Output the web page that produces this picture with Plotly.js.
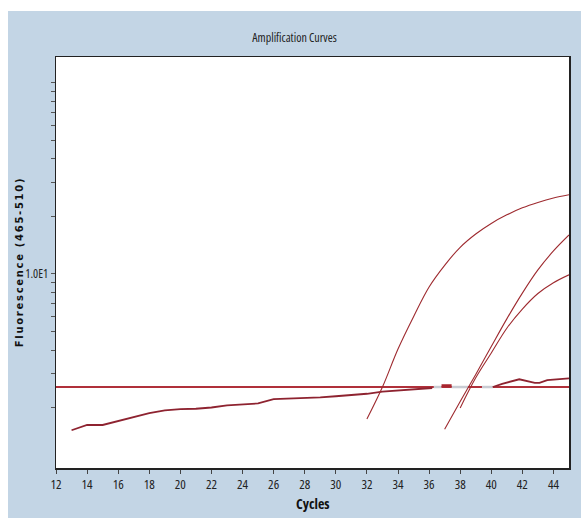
<!DOCTYPE html>
<html>
<head>
<meta charset="utf-8">
<script src="https://cdn.plot.ly/plotly-3.0.1.min.js"></script>
<style>
  html, body { margin: 0; padding: 0; background: #ffffff; width: 581px; height: 518px; overflow: hidden; }
  #chart { position: absolute; left: 8px; top: 11px; width: 573px; height: 507px; }
  #chart svg text { font-stretch: 70% !important; }
  #chart svg text[data-unformatted*="Fluorescence"] { font-stretch: 100% !important; letter-spacing: 1.7px; }
</style>
</head>
<body>
<div id="chart"></div>
<script>
// ---- data ----
const baselineCycles = [13,14,15,16,17,18,19,20,21,22,23,24,25,26,27,28,29,30,31,32,33,34,35,36,36.2,null,40.1,40.7,41.8,42.3,42.8,43.1,43.6,45];
const baselineValues = [1.52,1.62,1.62,1.70,1.79,1.87,1.93,1.96,1.97,2.00,2.05,2.08,2.10,2.21,2.22,2.24,2.26,2.29,2.32,2.36,2.42,2.46,2.50,2.53,2.53,null,2.56,2.66,2.81,2.75,2.69,2.69,2.78,2.84];

const curve1Cycles = [32,33,34,35,36,37,38,39,40,41,42,43,44,45];
const curve1Values = [1.74,2.56,4.05,5.98,8.55,11.1,13.8,16.2,18.4,20.4,22.2,23.7,25.0,26.0];

const curve2Cycles = [37,38,39,40,41,42,43,44,45];
const curve2Values = [1.54,2.15,2.98,4.17,5.82,7.94,10.5,13.2,16.0];

const curve3Cycles = [38,39,40,41,42,43,44,45];
const curve3Values = [1.99,2.86,3.86,5.20,6.55,7.9,9.0,9.9];

const thresholdCycles = [12,45];
const thresholdValues = [2.56,2.56];

const grayCycles = [36.3,36.8,null,37.45,38.5,null,39.4,40.1];
const grayValues = [2.56,2.56,null,2.56,2.56,null,2.56,2.56];

const dashCycles = [36.8,37.45];
const dashValues = [2.6,2.6];

const xTickVals = [12,14,16,18,20,22,24,26,28,30,32,34,36,38,40,42,44];
const yTickVals = [2,3,4,5,6,7,8,9,10,20,30,40,50,60,70,80,90,100];
const yTickText = ['','','','','','','','','1.0E1','','','','','','','','',''];

// ---- chart ----
const red = '#9e2a2f';
const narrow = "'Open Sans', 'Noto Sans', sans-serif";

const traces = [
  {x: thresholdCycles, y: thresholdValues, mode: 'lines', line: {color: '#b0303a', width: 2}, hoverinfo: 'skip'},
  {x: grayCycles, y: grayValues, mode: 'lines', line: {color: '#c9ccd3', width: 2.5}, connectgaps: false, hoverinfo: 'skip'},
  {x: dashCycles, y: dashValues, mode: 'lines', line: {color: '#a8262e', width: 3}, hoverinfo: 'skip'},
  {x: baselineCycles, y: baselineValues, mode: 'lines', line: {color: '#8e2330', width: 1.8}, connectgaps: false},
  {x: curve1Cycles, y: curve1Values, mode: 'lines', line: {color: red, width: 1.1, shape: 'spline', smoothing: 1}},
  {x: curve2Cycles, y: curve2Values, mode: 'lines', line: {color: red, width: 1.1, shape: 'spline', smoothing: 1}},
  {x: curve3Cycles, y: curve3Values, mode: 'lines', line: {color: red, width: 1.1, shape: 'spline', smoothing: 1}}
];

const layout = {
  width: 573, height: 507,
  margin: {l: 48, r: 12, t: 46, b: 50, pad: 0},
  paper_bgcolor: '#c3d5e5',
  plot_bgcolor: '#ffffff',
  showlegend: false,
  title: {
    text: 'Amplification Curves',
    font: {family: narrow, size: 12, color: '#222'},
    xref: 'container', x: 0.5, xanchor: 'center',
    yref: 'container', y: 1 - 27/507, yanchor: 'middle'
  },
  xaxis: {
    range: [12, 45.0],
    tickmode: 'array', tickvals: xTickVals,
    ticks: 'outside', ticklen: 4, tickcolor: '#444', tickwidth: 1,
    tickfont: {family: narrow, size: 13, color: '#222'},
    showgrid: false, zeroline: false,
    showline: true, linecolor: '#222', linewidth: 1.5, mirror: true
  },
  yaxis: {
    type: 'log',
    range: [-0.0157, 2.136],
    tickmode: 'array', tickvals: yTickVals, ticktext: yTickText,
    ticks: 'outside', ticklen: 4, tickcolor: '#555', tickwidth: 1,
    tickfont: {family: narrow, size: 12, color: '#222'},
    showgrid: false, zeroline: false,
    showline: true, linecolor: '#222', linewidth: 1.5, mirror: true
  },
  annotations: [
    {text: '<b>Fluorescence (465-510)</b>', xref: 'paper', yref: 'paper',
     x: (11 - 48) / 513, y: 0.5, xanchor: 'center', yanchor: 'middle',
     textangle: -90, showarrow: false,
     font: {family: "'DejaVu Sans', Verdana, sans-serif", size: 10, color: '#111'}},
    {text: '<b>Cycles</b>', xref: 'paper', yref: 'paper',
     x: 0.5, y: -36 / 411, xanchor: 'center', yanchor: 'middle',
     showarrow: false,
     font: {family: narrow, size: 14, color: '#111'}}
  ]
};

Plotly.newPlot('chart', traces, layout, {displayModeBar: false, staticPlot: true});
</script>
</body>
</html>
